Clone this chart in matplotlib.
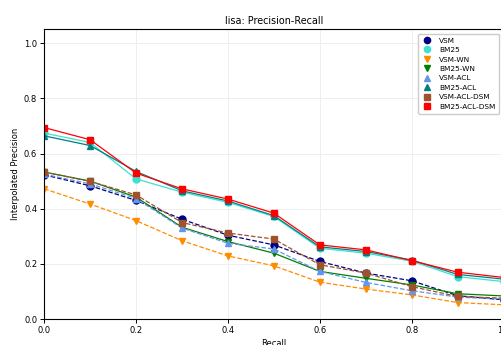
import matplotlib
matplotlib.use("Agg")
import matplotlib.pyplot as plt
from matplotlib.lines import Line2D

recall = [0.0, 0.1, 0.2, 0.3, 0.4, 0.5, 0.6, 0.7, 0.8, 0.9, 1.0]

names = ["VSM", "BM25", "VSM-WN", "BM25-WN", "VSM-ACL", "BM25-ACL", "VSM-ACL-DSM", "BM25-ACL-DSM"]

vsm          = [0.523, 0.483, 0.430, 0.362, 0.304, 0.269, 0.209, 0.167, 0.139, 0.085, 0.070]
bm25         = [0.674, 0.640, 0.508, 0.460, 0.423, 0.372, 0.257, 0.239, 0.210, 0.154, 0.136]
vsm_wn       = [0.472, 0.417, 0.357, 0.284, 0.229, 0.193, 0.134, 0.109, 0.088, 0.060, 0.052]
bm25_wn      = [0.533, 0.500, 0.442, 0.333, 0.281, 0.239, 0.173, 0.148, 0.124, 0.092, 0.084]
vsm_acl      = [0.525, 0.490, 0.437, 0.330, 0.275, 0.254, 0.173, 0.133, 0.103, 0.080, 0.072]
bm25_acl     = [0.664, 0.629, 0.535, 0.465, 0.428, 0.375, 0.262, 0.245, 0.214, 0.162, 0.145]
vsm_acl_dsm  = [0.533, 0.499, 0.450, 0.350, 0.312, 0.290, 0.197, 0.167, 0.118, 0.082, 0.076]
bm25_acl_dsm = [0.694, 0.650, 0.529, 0.472, 0.435, 0.384, 0.269, 0.251, 0.212, 0.170, 0.151]

series = [vsm, bm25, vsm_wn, bm25_wn, vsm_acl, bm25_acl, vsm_acl_dsm, bm25_acl_dsm]
colors = ["navy", "turquoise", "darkorange", "green", "cornflowerblue", "teal", "sienna", "red"]
markers = ["o", "o", "v", "v", "^", "^", "s", "s"]
styles = ["--", "-", "--", "-", "--", "-", "--", "-"]

fig = plt.figure(figsize=(5.02, 3.45), dpi=100)
ax = fig.add_axes([0.088, 0.075, 0.915, 0.840])

for y, c, m, ls in zip(series, colors, markers, styles):
    ax.plot(recall, y, color=c, marker=m, linestyle=ls, linewidth=0.9, markersize=5)

ax.set_xlim(0.0, 1.0)
ax.set_ylim(0.0, 1.05)
ax.set_xticks([0.0, 0.2, 0.4, 0.6, 0.8, 1.0])
ax.set_yticks([0.0, 0.2, 0.4, 0.6, 0.8, 1.0])
ax.tick_params(labelsize=6, length=3, width=0.7, pad=2)
for s in ax.spines.values():
    s.set_linewidth(0.8)
ax.grid(True, color="#eeeeee", linewidth=0.7)
ax.set_axisbelow(True)
ax.set_xlabel("Recall", fontsize=6, labelpad=3)
ax.set_ylabel("Interpolated Precision", fontsize=6, labelpad=3)
ax.set_title("lisa: Precision-Recall", fontsize=6.9, pad=4)

handles = [Line2D([], [], color=c, marker=m, linestyle="none", markersize=4.5)
           for c, m in zip(colors, markers)]
ax.legend(handles, names, loc="upper right", fontsize=5.3, handlelength=1.3,
          handletextpad=1.0, labelspacing=0.45, borderaxespad=0.6,
          framealpha=1.0, borderpad=0.5)

fig.savefig("out.png", dpi=100)
